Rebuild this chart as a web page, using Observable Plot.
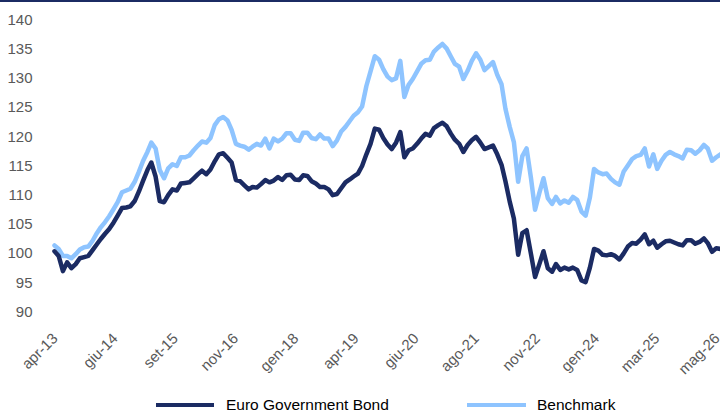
<!DOCTYPE html>
<html>
<head>
<meta charset="utf-8">
<script src="https://cdn.jsdelivr.net/npm/d3@7"></script>
<script src="https://cdn.jsdelivr.net/npm/@observablehq/plot@0.6"></script>
<style>
  html, body { margin: 0; padding: 0; background: #fff; }
  #wrap { width: 720px; height: 412px; border-top: 2px solid #1b2b63; box-sizing: border-box; position: relative; overflow: hidden; font-family: "Liberation Sans", Arial, sans-serif; }
  #chart svg { display: block; }
  #legend { position: absolute; left: 0; top: 395px; height: 16px; width: 720px; font-size: 15.5px; color: #000; }
  .item { position: absolute; top: 0; height: 16px; line-height: 16px; white-space: nowrap; }
  .sw { position: absolute; top: 6px; height: 4px; }
  .lab { position: absolute; top: 0; }
</style>
</head>
<body>
<div id="wrap">
  <div id="chart"></div>
  <div id="legend"></div>
</div>
<script>
// Monthly readings, first month = April 2013
const startMonth = "2013-04-15";

const seriesNames = ["Euro Government Bond", "Benchmark"];
const seriesColors = ["#1b2b63", "#8ec4ff"];

const euroGovBond = [
  100.4, 99.6, 97.0, 98.5, 97.5, 98.2, 99.2, 99.4, 99.6,
  100.6, 101.6, 102.5, 103.4, 104.2, 105.3, 106.5, 107.8, 107.9, 108.1, 109.0, 110.6, 112.5,
  114.3, 115.6, 113.2, 109.0, 108.8, 110.0, 111.0, 110.8, 112.0, 112.1, 112.2, 112.9,
  113.6, 114.2, 113.6, 114.4, 115.8, 117.0, 117.2, 116.4, 115.6, 112.6, 112.4, 111.7,
  111.0, 111.4, 111.3, 111.9, 112.6, 112.2, 112.5, 113.1, 112.6, 113.4, 113.5, 112.7,
  112.6, 113.4, 113.3, 112.4, 112.0, 111.4, 111.4, 111.0, 110.0, 110.2, 111.2, 112.2,
  112.7, 113.2, 113.7, 115.0, 117.0, 118.8, 121.4, 121.2, 119.8, 118.7, 117.9, 119.0,
  120.8, 116.5, 117.7, 118.0, 118.8, 119.7, 120.5, 120.2, 121.5, 122.0, 122.4, 121.8,
  120.5, 119.5, 118.8, 117.4, 118.6, 119.4, 120.0, 119.0, 117.9, 118.2, 118.5, 117.0,
  115.2, 112.4, 108.9, 106.0, 99.8, 103.5, 104.0, 100.0, 96.0, 98.2, 100.4, 97.5,
  96.9, 98.2, 97.2, 97.6, 97.3, 97.6, 97.2, 95.4, 95.1, 97.6, 100.8, 100.5,
  99.8, 99.7, 99.9, 99.6, 99.0, 100.0, 101.2, 101.8, 101.7, 102.4, 103.3, 101.6,
  102.2, 101.0, 101.6, 102.1, 102.2, 101.9, 101.6, 101.4, 102.3, 102.3, 101.7, 102.0,
  102.6, 101.8, 100.3, 100.9, 100.8
];

const benchmark = [
  101.4, 100.8, 99.6, 99.6, 99.2, 99.9, 100.7, 101.1, 101.2,
  102.2, 103.5, 104.5, 105.4, 106.4, 107.6, 108.8, 110.5, 110.8, 111.1, 112.3, 114.0, 115.9,
  117.4, 119.0, 118.0, 114.3, 112.9, 114.6, 115.3, 115.0, 116.5, 116.5, 116.8, 117.7,
  118.5, 119.2, 119.0, 119.8, 122.0, 123.0, 123.4, 122.8, 121.2, 118.8, 118.5, 118.3,
  117.8, 118.3, 118.8, 118.5, 119.7, 118.0, 119.7, 119.2, 119.7, 120.6, 120.6, 119.5,
  119.3, 120.7, 120.7, 119.8, 119.6, 120.4, 119.7, 119.7, 118.4, 119.4, 120.9, 121.7,
  122.7, 123.6, 124.2, 125.2, 128.7, 131.2, 133.8, 133.2, 131.6, 130.3, 129.7, 130.0,
  133.0, 126.8, 128.9, 129.9, 131.2, 132.5, 133.1, 133.2, 134.6, 135.3, 135.9, 135.1,
  133.7, 132.5, 132.0, 129.9, 131.3, 133.0, 134.3, 133.2, 131.4, 132.1, 132.8, 130.6,
  129.0, 124.8, 121.7, 119.1, 112.3, 116.7, 118.0, 113.0, 107.5, 110.4, 112.9, 109.5,
  108.5, 109.7, 108.6, 109.1, 108.7, 109.7, 109.2, 107.2, 106.5, 109.6, 114.5, 113.9,
  113.6, 113.7, 112.8, 112.2, 111.8, 114.0, 115.1, 116.2, 116.7, 116.9, 118.0, 114.9,
  117.0, 114.5, 115.9, 116.9, 117.4, 117.0, 116.7, 116.3, 117.8, 117.7, 117.1, 117.7,
  118.6, 118.0, 115.9, 116.5, 117.0
];

const yTicks = [90, 95, 100, 105, 110, 115, 120, 125, 130, 135, 140];
const tickDates = ["2013-04-20", "2014-06-28", "2015-09-06", "2016-11-14", "2018-01-22", "2019-04-02",
                   "2020-06-09", "2021-08-18", "2022-11-01", "2024-01-04", "2025-03-14", "2026-05-23"];
const tickLabels = ["apr-13", "giu-14", "set-15", "nov-16", "gen-18", "apr-19",
                    "giu-20", "ago-21", "nov-22", "gen-24", "mar-25", "mag-26"];

const start = new Date(startMonth + "T00:00:00Z");
const toRows = (arr, name) => arr.map((v, i) => ({date: d3.utcMonth.offset(start, i), value: v, series: name}));
const bondRows = toRows(euroGovBond, seriesNames[0]);
const benchRows = toRows(benchmark, seriesNames[1]);
const tickDateObjs = tickDates.map(s => new Date(s + "T00:00:00Z"));
const labelMap = new Map(tickDateObjs.map((d, i) => [+d, tickLabels[i]]));

const plot = Plot.plot({
  width: 720,
  height: 378,
  marginTop: 17.5,
  marginBottom: 68.5,
  marginLeft: 54,
  marginRight: 0,
  style: {fontFamily: "'Liberation Sans', Arial, sans-serif", fontSize: "15px", color: "#595959", background: "#fff", overflow: "hidden"},
  x: {type: "utc", domain: [start, d3.utcMonth.offset(start, euroGovBond.length - 1)]},
  y: {domain: [90, 140]},
  marks: [
    Plot.axisY({ticks: yTicks, tickSize: 0, tickPadding: 22, fontSize: 15, fill: "#595959", label: null}),
    Plot.axisX({ticks: tickDateObjs, tickFormat: d => labelMap.get(+d), tickRotate: -45, tickSize: 0, tickPadding: 24, fontSize: 15, fill: "#595959", label: null}),
    Plot.lineY(benchRows, {x: "date", y: "value", stroke: seriesColors[1], strokeWidth: 4.5, strokeLinejoin: "round"}),
    Plot.lineY(bondRows, {x: "date", y: "value", stroke: seriesColors[0], strokeWidth: 4.5, strokeLinejoin: "round"})
  ]
});
document.getElementById("chart").appendChild(plot);

// Legend
const legend = document.getElementById("legend");
const legendPos = [{sw: 156, swW: 58, lab: 226}, {sw: 467, swW: 59, lab: 537}];
seriesNames.forEach((name, i) => {
  const it = document.createElement("div");
  it.className = "item";
  it.style.left = "0px";
  const sw = document.createElement("div");
  sw.className = "sw";
  sw.style.left = legendPos[i].sw + "px";
  sw.style.width = legendPos[i].swW + "px";
  sw.style.background = seriesColors[i];
  const lab = document.createElement("div");
  lab.className = "lab";
  lab.style.left = legendPos[i].lab + "px";
  lab.textContent = name;
  it.appendChild(sw);
  it.appendChild(lab);
  legend.appendChild(it);
});
</script>
</body>
</html>
